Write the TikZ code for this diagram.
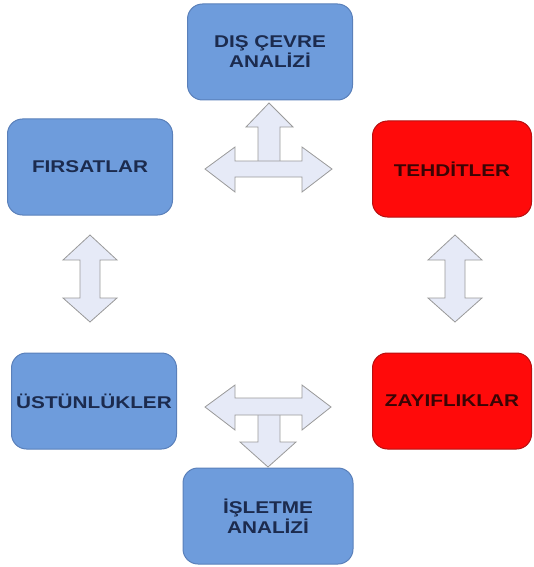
\documentclass[tikz,border=0pt]{standalone}
\usepackage{fontspec}
\newfontfamily\boxfont[FakeStretch=1.22]{Liberation Sans}
\usetikzlibrary{positioning}
\definecolor{boxblue}{HTML}{6E9CDC}
\definecolor{boxblueline}{HTML}{5A80BA}
\definecolor{textblue}{HTML}{1C2B4E}
\definecolor{boxred}{HTML}{FF0A0A}
\definecolor{boxredline}{HTML}{B81010}
\definecolor{textred}{HTML}{3A0505}
\definecolor{arrowfill}{HTML}{E6EAF7}
\definecolor{arrowline}{HTML}{9A9A9A}

\begin{document}
\begin{tikzpicture}
        [
            x=1pt, y=-1pt,
            box/.style={rectangle, rounded corners=15pt, line width=1pt,
                        minimum width=165pt, minimum height=96pt,
                        align=center, inner sep=0pt,
                        font=\boxfont\bfseries\fontsize{17}{20}\selectfont},
            bluebox/.style={box, fill=boxblue, draw=boxblueline, text=textblue},
            redbox/.style={box, fill=boxred, draw=boxredline, text=textred},
            blockarrow/.style={fill=arrowfill, draw=arrowline, line width=0.8pt,
                               line join=miter}
        ]
        \useasboundingbox (0,0) rectangle (534,567);
        % boxes
        \node (dis) [bluebox] at (270,52) {DIŞ ÇEVRE\\ANALİZİ};
        \node (firsat) [bluebox] at (90,167) {FIRSATLAR};
        \node (tehdit) [redbox, minimum width=159pt] at (452,169) {TEHDİTLER};
        \node (ustun) [bluebox] at (94,401) {ÜSTÜNLÜKLER};
        \node (zayif) [redbox, minimum width=159pt] at (452,401) {ZAYIFLIKLAR};
        \node (isletme) [bluebox, minimum width=170pt] at (268,516) {İŞLETME\\ANALİZİ};
        % upper T arrow
        \draw [blockarrow] (258,170) -- (258,127) -- (246,127) -- (269,103)
            -- (293,127) -- (280,127) -- (280,170) -- cycle;
        \draw [blockarrow] (205,169) -- (235,147) -- (235,161) -- (302,161)
            -- (302,147) -- (332,169) -- (302,192) -- (302,177) -- (235,177)
            -- (235,192) -- cycle;
        % lower T arrow
        \draw [blockarrow] (258,405) -- (258,442) -- (240,442) -- (268,467)
            -- (296,442) -- (280,442) -- (280,405) -- cycle;
        \draw [blockarrow] (205,407) -- (235,385) -- (235,398) -- (302,398)
            -- (302,385) -- (331,407) -- (302,430) -- (302,415) -- (235,415)
            -- (235,430) -- cycle;
        % side arrows
        \foreach \xc in {90,455}{
            \draw [blockarrow] (\xc,235) -- (\xc+27,260) -- (\xc+10,260)
                -- (\xc+10,298) -- (\xc+27,298) -- (\xc,322) -- (\xc-27,298)
                -- (\xc-10,298) -- (\xc-10,260) -- (\xc-27,260) -- cycle;
        }
    \end{tikzpicture}
\end{document}
